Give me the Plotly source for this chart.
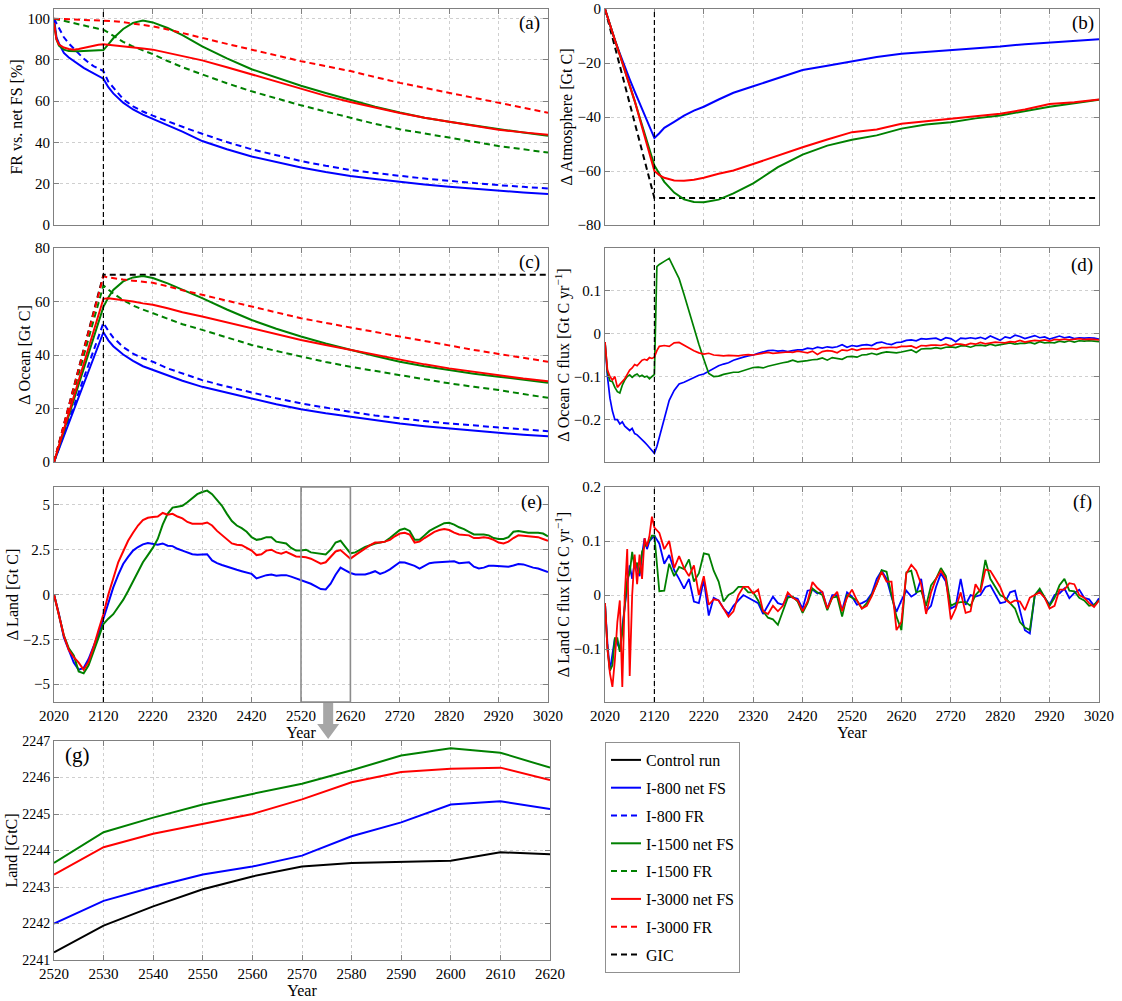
import plotly.graph_objects as go

# body margin is removed by a post script, so figure pixels == window pixels
OFF = 0
W, H = 1122 - OFF, 1001 - OFF
FONT = "Liberation Serif"

# ---------------------------------------------------------------- data
YEAR_TICKS = list(range(2020, 3021, 100))
YEARS_A = [2020, 2025, 2030, 2040, 2050, 2060, 2070, 2080, 2090, 2100, 2110, 2120,
           2130, 2140, 2160, 2180, 2200, 2220, 2250, 2280, 2320, 2370, 2420, 2470,
           2520, 2570, 2620, 2670, 2720, 2770, 2820, 2870, 2920, 2970, 3020]

# (a) FR vs. net FS [%]
A_BLUE_NET = [100, 91, 88, 83.4, 81.2, 79.4, 77.7, 76.2, 74.8, 73.4, 72.2, 70.9,
              66.8, 63.8, 59.3, 56.0, 53.5, 51.5, 48.2, 45.3, 40.7, 36.7, 33.2, 30.4,
              27.9, 25.7, 23.8, 22.3, 20.9, 19.6, 18.5, 17.5, 16.6, 15.8, 15.0]
A_BLUE_FR = [100, 97.7, 95.5, 91, 88, 85.5, 83, 80.7, 78.7, 77, 75.8, 74.6,
             69.5, 66.5, 61, 57.5, 55, 53, 50.2, 47.6, 44.2, 40.2, 36.7, 33.7,
             31.0, 28.7, 26.7, 25.2, 23.8, 22.5, 21.4, 20.3, 19.3, 18.5, 17.7]
A_GREEN_NET = [98, 90, 87, 85, 84.3, 84.1, 84.2, 84.3, 84.4, 84.5, 84.6, 84.8,
               87.5, 90.5, 95, 98, 99.1, 98.2, 95.5, 92, 86.6, 80.8, 75.5, 71.5,
               67.5, 64, 60.5, 57.3, 54.5, 52, 50, 48.2, 46.5, 44.8, 43.2]
A_GREEN_FR = [100, 99.8, 99.5, 99, 98.4, 97.8, 97.2, 96.6, 96, 95.5, 95.1, 94.7,
              93.3, 91.8, 88.8, 86.5, 84.6, 82.8, 79.5, 76.5, 73, 68.7, 64.8, 61.3,
              58, 55, 52, 49, 46.4, 44.3, 42.4, 40.3, 38.3, 36.7, 35.1]
A_RED_NET = [98, 90, 87.5, 86, 85.3, 85, 85.3, 85.8, 86.4, 87, 87.4, 87.6,
             87.3, 87, 86.4, 85.9, 85.5, 85, 83.5, 82, 79.8, 76.5, 73, 69.3,
             65.8, 62.6, 59.6, 56.8, 54.3, 52, 50, 48, 46.2, 44.9, 43.8]
A_RED_FR = [100, 100, 99.9, 99.8, 99.7, 99.6, 99.5, 99.4, 99.3, 99.3, 99.2, 99.2,
            99, 98.8, 98.3, 97.7, 97, 96.3, 94.8, 93.2, 90.7, 87.8, 85, 82.2,
            79.4, 77, 74.6, 71.7, 68.9, 66.5, 64.1, 61.7, 59.3, 56.8, 54.4]

# (b) Delta atmosphere [Gt C]
B_BLUE = [0, -3, -6, -11.5, -16.5, -21.5, -26, -30.5, -35, -39.5, -43.8, -47.8,
          -46, -44, -41.8, -39.5, -37.6, -36.2, -33.5, -31, -28.6, -25.5, -22.6, -21,
          -19.5, -17.8, -16.6, -15.9, -15.4, -14.6, -13.9, -13, -12.4, -11.9, -11.2]
B_GREEN = [0, -3, -6, -11.5, -17, -22.5, -28, -34, -40, -46, -52, -58,
           -61, -64, -68, -70.5, -71.5, -71.6, -70.6, -68.3, -64.6, -58.6, -53.9, -50.6,
           -48.4, -46.8, -44.3, -42.8, -41.9, -40.5, -39.4, -37.8, -36.2, -34.9, -33.6]
B_RED = [0, -3, -6, -11.5, -17, -22.5, -28, -34, -40.5, -47, -53.5, -60,
         -61.5, -62.5, -63.5, -63.6, -63.2, -62.5, -61, -59.8, -57.4, -54.2, -51.2, -48.3,
         -45.6, -44.6, -42.5, -41.6, -40.6, -39.6, -38.8, -37.2, -35.2, -34.5, -33.5]
GIC_YEARS = [2020, 2120, 3020]
GIC_ATM = [0, -70, -70]
GIC_OCEAN = [0, 70, 70]

# (c) Delta ocean [Gt C]
C_BLUE_NET = [0, 2.4, 4.8, 9.7, 14.5, 19.4, 24.2, 29.1, 33.9, 38.8, 43.6, 48.5,
              45.5, 43.3, 40.2, 37.8, 35.8, 34.4, 32.3, 30.4, 28.1, 25.8, 23.75, 21.6,
              19.75, 18.2, 16.9, 15.6, 14.4, 13.4, 12.5, 11.7, 10.9, 10.2, 9.6]
C_BLUE_FR = [0, 2.6, 5.2, 10.4, 15.6, 20.8, 26, 31.2, 36.4, 41.6, 46.8, 52,
             49, 46.5, 43, 40.5, 38.8, 37.5, 35, 33, 30.6, 28.2, 25.9, 23.8,
             21.9, 20.3, 18.75, 17.4, 16.25, 15.3, 14.4, 13.6, 12.9, 12.2, 11.5]
C_GREEN_NET = [0, 2.9, 5.8, 11.6, 17.4, 23.2, 29, 34.8, 40.6, 46.4, 52.2, 58,
               61.5, 64.3, 67.5, 69, 69.5, 68.8, 66.8, 64.5, 61.25, 57, 53.1, 49.8,
               46.9, 44.3, 41.9, 39.6, 37.5, 35.8, 34.4, 33, 31.9, 30.7, 29.6]
C_GREEN_FR = [0, 3.3, 6.6, 13.2, 19.8, 26.4, 33, 39.6, 46.2, 52.8, 59.4, 66,
              64.5, 63, 60.5, 58.5, 57, 55.6, 53.5, 51.5, 49.4, 46.5, 43.75, 41.5,
              39.4, 37.4, 35.6, 34, 32.5, 30.9, 29.4, 28.1, 26.9, 25.4, 24]
C_RED_NET = [0, 3.05, 6.1, 12.2, 18.3, 24.4, 30.5, 36.6, 42.7, 48.8, 54.9, 61,
             61.2, 61, 60.5, 60, 59.3, 58.75, 57.5, 56, 54.4, 52.2, 50, 47.8,
             45.6, 43.7, 41.9, 40, 38.1, 36.5, 35, 33.7, 32.5, 31.2, 30.2]
C_RED_FR = [0, 3.45, 6.9, 13.9, 20.8, 27.7, 34.7, 41.6, 48.5, 55.5, 62.4, 69.4,
            69, 68.7, 68.2, 67.8, 67.5, 67, 65.7, 64.2, 62.5, 60.3, 58.1, 55.9,
            53.75, 52, 50.4, 48.6, 46.9, 45.2, 43.4, 41.9, 40.4, 38.9, 37.5]

# (d) Delta ocean C flux [Gt C / yr]
D_YEARS = list(range(2020, 2121, 5)) + [2125] + list(range(2130, 3021, 10))
D_BLUE = [-0.020, -0.100, -0.150, -0.180, -0.200, -0.200, -0.210, -0.205, -0.215, -0.220, -0.225,
          -0.220, -0.232, -0.235, -0.240, -0.245, -0.252, -0.258, -0.265, -0.272, -0.278,
          -0.262,
          -0.240, -0.195, -0.155, -0.132, -0.117, -0.113, -0.108, -0.102, -0.097, -0.094,
          -0.087, -0.080, -0.075, -0.071, -0.068, -0.062, -0.058, -0.055, -0.052, -0.050,
          -0.046, -0.043, -0.040, -0.039, -0.041, -0.040, -0.042, -0.040, -0.038, -0.038,
          -0.034, -0.036, -0.032, -0.034, -0.031, -0.033, -0.031, -0.026, -0.032, -0.028,
          -0.030, -0.027, -0.026, -0.028, -0.022, -0.020, -0.024, -0.026, -0.021, -0.020,
          -0.016, -0.015, -0.017, -0.012, -0.013, -0.012, -0.011, -0.016, -0.010, -0.012,
          -0.019, -0.011, -0.012, -0.010, -0.012, -0.009, -0.013, -0.006, -0.011, -0.016,
          -0.008, -0.011, -0.004, -0.007, -0.012, -0.009, -0.005, -0.010, -0.008, -0.013,
          -0.009, -0.006, -0.010, -0.008, -0.012, -0.010, -0.011, -0.010, -0.011, -0.013]
D_GREEN = [-0.020, -0.090, -0.110, -0.112, -0.125, -0.135, -0.138, -0.120, -0.108, -0.100, -0.096,
           -0.102, -0.097, -0.094, -0.100, -0.097, -0.101, -0.099, -0.105, -0.100, -0.095,
           0.155,
           0.160, 0.167, 0.174, 0.150, 0.127, 0.090, 0.050, 0.012, -0.025, -0.060,
           -0.093, -0.100, -0.099, -0.095, -0.093, -0.090, -0.090, -0.086, -0.082, -0.079,
           -0.078, -0.080, -0.076, -0.073, -0.070, -0.068, -0.066, -0.062, -0.066, -0.065,
           -0.063, -0.061, -0.060, -0.057, -0.062, -0.056, -0.058, -0.060, -0.054, -0.053,
           -0.055, -0.050, -0.049, -0.046, -0.049, -0.045, -0.043, -0.044, -0.045, -0.043,
           -0.040, -0.038, -0.044, -0.036, -0.035, -0.035, -0.033, -0.035, -0.032, -0.031,
           -0.033, -0.029, -0.029, -0.032, -0.028, -0.027, -0.029, -0.025, -0.028, -0.026,
           -0.024, -0.022, -0.025, -0.023, -0.023, -0.021, -0.024, -0.019, -0.022, -0.021,
           -0.022, -0.018, -0.020, -0.017, -0.020, -0.017, -0.018, -0.017, -0.018, -0.019]
D_RED = [-0.020, -0.085, -0.100, -0.108, -0.100, -0.125, -0.118, -0.112, -0.105, -0.095, -0.085,
         -0.080, -0.072, -0.075, -0.068, -0.062, -0.060, -0.062, -0.056, -0.058, -0.055,
         -0.040,
         -0.030, -0.028, -0.030, -0.022, -0.021, -0.028, -0.034, -0.040, -0.045, -0.048,
         -0.046, -0.050, -0.051, -0.052, -0.051, -0.051, -0.052, -0.050, -0.049, -0.050,
         -0.048, -0.046, -0.044, -0.046, -0.045, -0.045, -0.043, -0.044, -0.041, -0.043,
         -0.045, -0.041, -0.049, -0.042, -0.040, -0.041, -0.045, -0.038, -0.040, -0.036,
         -0.039, -0.036, -0.035, -0.035, -0.037, -0.033, -0.033, -0.032, -0.033, -0.030,
         -0.030, -0.029, -0.034, -0.028, -0.029, -0.027, -0.027, -0.028, -0.025, -0.029,
         -0.025, -0.025, -0.027, -0.023, -0.025, -0.021, -0.024, -0.022, -0.020, -0.021,
         -0.022, -0.019, -0.020, -0.016, -0.020, -0.018, -0.016, -0.017, -0.015, -0.018,
         -0.014, -0.015, -0.013, -0.015, -0.013, -0.012, -0.014, -0.013, -0.014, -0.015]

# (e) Delta land [Gt C]
E_YEARS = list(range(2020, 3021, 10))
E_BLUE = [0.0, -1.1, -2.4, -3.1, -3.8, -4.2, -4.1, -3.6, -2.9, -2.2,
          -1.35, -0.4, 0.4, 1.1, 1.7, 2.1, 2.45, 2.65, 2.8, 2.87,
          2.82, 2.78, 2.85, 2.72, 2.7, 2.55, 2.45, 2.35, 2.25, 2.22,
          2.22, 2.25, 1.9, 1.75, 1.65, 1.55, 1.45, 1.38, 1.3, 1.22,
          1.15, 0.9, 1.0, 1.08, 1.12, 1.05, 1.07, 1.08, 1.0, 0.9,
          0.82, 0.72, 0.6, 0.45, 0.3, 0.28, 0.6, 1.1, 1.5, 1.35,
          1.2, 1.12, 1.1, 1.12, 1.2, 1.3, 1.15, 1.25, 1.4, 1.6,
          1.8, 1.78, 1.68, 1.6, 1.45, 1.62, 1.75, 1.78, 1.8, 1.8,
          1.8, 1.85, 1.75, 1.78, 1.8, 1.55, 1.45, 1.5, 1.6, 1.6,
          1.58, 1.58, 1.55, 1.62, 1.7, 1.68, 1.58, 1.5, 1.45, 1.35,
          1.25]
E_GREEN = [0.0, -1.1, -2.3, -3.0, -3.4, -4.3, -4.4, -3.95, -3.2, -2.4,
           -1.65, -1.35, -1.1, -0.7, -0.3, 0.2, 0.75, 1.3, 1.8, 2.2,
           2.6, 3.1, 3.9, 4.5, 4.85, 4.9, 4.95, 5.15, 5.35, 5.6,
           5.72, 5.8, 5.6, 5.3, 4.95, 4.5, 4.1, 3.85, 3.7, 3.5,
           3.2, 3.05, 3.1, 3.2, 3.2, 2.95, 2.9, 2.85, 2.6, 2.45,
           2.45, 2.5, 2.35, 2.3, 2.25, 2.23, 2.5, 2.9, 3.0, 2.65,
           2.3, 2.35, 2.5, 2.65, 2.75, 2.85, 2.9, 2.95, 3.15, 3.4,
           3.6, 3.68, 3.55, 3.05, 3.05, 3.3, 3.55, 3.7, 3.85, 3.98,
           4.0, 3.9, 3.75, 3.65, 3.5, 3.35, 3.35, 3.35, 3.3, 3.15,
           3.1, 3.1, 3.2, 3.5, 3.55, 3.5, 3.45, 3.45, 3.45, 3.4,
           3.25]
E_RED = [0.0, -1.1, -2.3, -3.1, -3.5, -3.8, -4.2, -3.75, -2.95, -2.0,
         -1.1, 0.0, 0.97, 1.8, 2.4, 3.0, 3.45, 3.85, 4.15, 4.28,
         4.32, 4.35, 4.55, 4.45, 4.5, 4.35, 4.25, 4.05, 3.95, 3.93,
         3.95, 4.02, 3.85, 3.55, 3.3, 3.05, 2.85, 2.78, 2.75, 2.6,
         2.45, 2.2, 2.25, 2.45, 2.5, 2.35, 2.28, 2.38, 2.25, 2.12,
         2.1, 2.08, 2.0, 1.85, 1.72, 1.8, 2.1, 2.4, 2.48, 2.25,
         2.0, 2.2, 2.38, 2.6, 2.75, 2.9, 2.9, 2.95, 3.05, 3.25,
         3.4, 3.45, 3.35, 2.9, 2.95, 3.15, 3.35, 3.5, 3.6, 3.65,
         3.6, 3.45, 3.35, 3.32, 3.3, 3.15, 3.15, 3.2, 3.15, 3.05,
         2.9, 2.85, 2.95, 3.15, 3.3, 3.28, 3.25, 3.2, 3.2, 3.1,
         3.0]

# (f) Delta land C flux [Gt C / yr]
F_YEARS = list(range(2020, 2116, 5)) + list(range(2120, 3021, 10))
F_BLUE = [-0.015, -0.090, -0.140, -0.110, -0.080, -0.090, -0.100, -0.060, -0.020, 0.020,
          0.055, 0.030, 0.060, 0.050, 0.035, 0.075, 0.105, 0.085, 0.100, 0.105,
          0.110, 0.095, 0.058, 0.074, 0.046, 0.030, 0.012, 0.030, -0.012, -0.015,
          0.028, -0.038, -0.005, -0.010, -0.025, -0.035, -0.020, -0.010, 0.000, -0.005,
          -0.010, -0.015, -0.035, -0.020, -0.003, -0.015, -0.018, -0.002, -0.005, -0.007,
          -0.025, 0.008, 0.010, 0.003, 0.006, -0.025, 0.000, 0.000, -0.028, 0.005,
          -0.003, -0.018, -0.015, -0.010, 0.003, 0.030, 0.045, 0.030, -0.003, -0.031,
          -0.010, 0.008, -0.003, 0.003, 0.030, -0.030, -0.020, 0.015, 0.040, 0.025,
          -0.025, -0.020, 0.030, -0.018, 0.000, -0.003, 0.000, 0.015, 0.018, 0.000,
          -0.015, -0.013, 0.005, 0.008, -0.030, -0.065, -0.071, 0.000, 0.008, -0.005,
          -0.018, 0.000, 0.003, 0.012, -0.006, 0.004, 0.010, -0.005, -0.008, -0.020,
          -0.006]
F_GREEN = [-0.015, -0.100, -0.140, -0.130, -0.080, -0.080, -0.105, -0.070, -0.020, 0.030,
           0.040, 0.080, 0.050, 0.060, 0.040, 0.080, 0.090, 0.095, 0.100, 0.110,
           0.110, 0.007, 0.008, 0.058, 0.035, 0.052, 0.048, 0.066, 0.025, 0.040,
           0.077, 0.075, 0.045, 0.025, -0.012, 0.000, 0.005, 0.015, 0.015, 0.005,
           0.005, -0.010, -0.030, -0.042, -0.045, -0.055, -0.030, -0.005, -0.003, -0.012,
           -0.033, -0.015, 0.012, 0.005, 0.000, -0.028, -0.005, -0.003, -0.040, 0.000,
           -0.005, -0.010, -0.025, -0.015, 0.000, 0.020, 0.046, 0.043, 0.000, -0.040,
           -0.065, 0.042, 0.045, 0.005, 0.008, -0.020, 0.018, 0.030, 0.050, 0.035,
           -0.020, -0.015, -0.013, -0.013, -0.020, 0.000, 0.010, 0.065, 0.030, 0.015,
           0.000, -0.005, -0.015, -0.025, -0.050, -0.060, -0.065, 0.000, 0.012, -0.005,
           -0.020, -0.005, 0.018, 0.030, 0.008, 0.007, -0.005, -0.010, -0.020, -0.018,
           -0.010]
F_RED = [-0.015, -0.100, -0.145, -0.170, -0.120, -0.050, -0.010, -0.170, 0.000, 0.085,
         -0.150, 0.000, 0.075, 0.020, 0.075, 0.030, 0.105, 0.090, 0.110, 0.145,
         0.125, 0.115, 0.085, 0.100, 0.050, 0.072, 0.050, 0.035, 0.055, 0.000,
         0.035, -0.018, -0.008, -0.010, -0.025, -0.040, -0.030, 0.000, 0.015, 0.015,
         0.003, 0.010, -0.030, -0.035, -0.020, -0.030, -0.020, 0.005, -0.005, -0.010,
         -0.030, -0.012, 0.024, 0.013, 0.005, -0.025, -0.005, 0.006, -0.030, -0.005,
         0.010, -0.010, -0.025, -0.020, -0.002, 0.020, 0.043, 0.025, 0.025, -0.065,
         -0.050, 0.040, 0.056, 0.045, 0.020, -0.035, 0.005, 0.030, 0.045, 0.030,
         -0.045, -0.025, 0.005, -0.033, -0.030, 0.020, 0.005, 0.047, 0.045, 0.030,
         0.015, -0.008, -0.015, -0.010, -0.012, -0.028, -0.005, 0.000, 0.005, -0.005,
         -0.025, -0.020, 0.010, 0.010, 0.022, 0.020, 0.000, -0.005, -0.015, -0.022,
         -0.010]

# (g) Land [GtC], zoom 2520-2620
G_YEARS = list(range(2520, 2621, 10))
G_CONTROL = [2241.21, 2241.94, 2242.47, 2242.94, 2243.29, 2243.56, 2243.66, 2243.68, 2243.72, 2243.95, 2243.90]
G_BLUE = [2242.00, 2242.62, 2243.00, 2243.34, 2243.56, 2243.86, 2244.39, 2244.77, 2245.26, 2245.35, 2245.14]
G_GREEN = [2243.66, 2244.50, 2244.90, 2245.26, 2245.55, 2245.83, 2246.20, 2246.60, 2246.80, 2246.68, 2246.27]
G_RED = [2243.34, 2244.09, 2244.46, 2244.73, 2245.00, 2245.40, 2245.87, 2246.15, 2246.24, 2246.27, 2245.93]
G_TICKS_Y = [2241, 2242, 2243, 2244, 2245, 2246, 2247]

for nm, xs, ys in [("D_BLUE", D_YEARS, D_BLUE), ("D_GREEN", D_YEARS, D_GREEN), ("D_RED", D_YEARS, D_RED),
                   ("E_BLUE", E_YEARS, E_BLUE), ("E_GREEN", E_YEARS, E_GREEN), ("E_RED", E_YEARS, E_RED),
                   ("F_BLUE", F_YEARS, F_BLUE), ("F_GREEN", F_YEARS, F_GREEN), ("F_RED", F_YEARS, F_RED)]:
    assert len(xs) == len(ys), (nm, len(xs), len(ys))

# ---------------------------------------------------------------- styling
BLUE, GREEN, RED, BLACK = "#0000ff", "#008000", "#ff0000", "#000000"
DASH = "6px,4px"
LW = 2.0

NAMES = {"ctrl": "Control run", "b": "I-800 net FS", "bf": "I-800 FR",
         "g": "I-1500 net FS", "gf": "I-1500 FR", "r": "I-3000 net FS",
         "rf": "I-3000 FR", "gic": "GIC"}
RANK = {"ctrl": 1, "b": 2, "bf": 3, "g": 4, "gf": 5, "r": 6, "rf": 7, "gic": 8}

fig = go.Figure()


def add(ax, x, y, key, color, dash=None, show=False, width=LW):
    fig.add_trace(go.Scatter(
        x=x, y=y, mode="lines", name=NAMES[key], legendgroup=NAMES[key],
        legendrank=RANK[key], showlegend=show,
        line=dict(color=color, width=width, dash=dash),
        xaxis="x" + ax, yaxis="y" + ax, hoverinfo="skip"))


# (a)
add("", YEARS_A, A_BLUE_NET, "b", BLUE, show=True)
add("", YEARS_A, A_BLUE_FR, "bf", BLUE, DASH, show=True)
add("", YEARS_A, A_GREEN_NET, "g", GREEN, show=True)
add("", YEARS_A, A_GREEN_FR, "gf", GREEN, DASH, show=True)
add("", YEARS_A, A_RED_FR, "rf", RED, DASH, show=True)
add("", YEARS_A, A_RED_NET, "r", RED, show=True)
# (b)
add("2", GIC_YEARS, GIC_ATM, "gic", BLACK, DASH, show=True)
add("2", YEARS_A, B_BLUE, "b", BLUE)
add("2", YEARS_A, B_GREEN, "g", GREEN)
add("2", YEARS_A, B_RED, "r", RED)
# (c)
add("3", GIC_YEARS, GIC_OCEAN, "gic", BLACK, DASH)
add("3", YEARS_A, C_BLUE_FR, "bf", BLUE, DASH)
add("3", YEARS_A, C_BLUE_NET, "b", BLUE)
add("3", YEARS_A, C_GREEN_FR, "gf", GREEN, DASH)
add("3", YEARS_A, C_GREEN_NET, "g", GREEN)
add("3", YEARS_A, C_RED_FR, "rf", RED, DASH)
add("3", YEARS_A, C_RED_NET, "r", RED)
# (d)
add("4", D_YEARS, D_BLUE, "b", BLUE, width=1.7)
add("4", D_YEARS, D_GREEN, "g", GREEN, width=1.7)
add("4", D_YEARS, D_RED, "r", RED, width=1.7)
# (e)
add("5", E_YEARS, E_BLUE, "b", BLUE)
add("5", E_YEARS, E_GREEN, "g", GREEN)
add("5", E_YEARS, E_RED, "r", RED)
# (f)
add("6", F_YEARS, F_BLUE, "b", BLUE, width=1.8)
add("6", F_YEARS, F_GREEN, "g", GREEN, width=1.8)
add("6", F_YEARS, F_RED, "r", RED, width=1.8)
# (g)
add("7", G_YEARS, G_CONTROL, "ctrl", BLACK, show=True)
add("7", G_YEARS, G_BLUE, "b", BLUE)
add("7", G_YEARS, G_GREEN, "g", GREEN)
add("7", G_YEARS, G_RED, "r", RED)


def px_x(p):
    """window pixel column -> paper fraction"""
    return (p - OFF) / W


def px_y(p):
    """window pixel row -> paper fraction"""
    return 1 - (p - OFF) / H


LEFT = [px_x(54), px_x(548)]
RIGHT = [px_x(605), px_x(1099)]
ROW1 = [px_y(225), px_y(9)]
ROW2 = [px_y(462), px_y(248)]
ROW3 = [px_y(702), px_y(487)]
G_XD = [px_x(54), px_x(550)]
G_YD = [px_y(960), px_y(741)]

AX_GREY = "#808080"


def ax_style(**kw):
    d = dict(showline=True, linecolor=AX_GREY, linewidth=1, mirror="ticks",
             ticks="inside", ticklen=5, tickcolor=AX_GREY, tickwidth=1,
             showgrid=True, gridcolor="#cfcfcf", griddash="dot", gridwidth=1,
             zeroline=False, automargin=False, fixedrange=True,
             ticklabeloverflow="allow",
             tickfont=dict(family=FONT, size=15, color="black"),
             title_font=dict(family=FONT, size=16, color="black"))
    d.update(kw)
    return d


def xax(domain, anchor, labels, title=None, rng=(2020, 3020), tickvals=YEAR_TICKS):
    d = ax_style(domain=domain, anchor=anchor, range=list(rng), tickvals=tickvals,
                 showticklabels=labels)
    if title:
        d["title"] = dict(text=title, standoff=0)
    return d


def yax(domain, anchor, rng, tickvals, title=None, ticktext=None, **kw):
    d = ax_style(domain=domain, anchor=anchor, range=list(rng), tickvals=tickvals, **kw)
    if title:
        d["title"] = dict(text=title, standoff=0)
    if ticktext is not None:
        d["ticktext"] = ticktext
    return d


layout = dict(
    width=W, height=H, autosize=False, template="none",
    margin=dict(l=0, r=0, t=0, b=0, pad=0),
    paper_bgcolor="white", plot_bgcolor="white",
    font=dict(family=FONT, size=16, color="black"),
    showlegend=True,
    legend=dict(x=px_x(605), y=px_y(742), xanchor="left", yanchor="top",
                bordercolor="#909090", borderwidth=1, bgcolor="white",
                font=dict(family=FONT, size=16, color="black"),
                traceorder="grouped", tracegroupgap=4, itemwidth=30),
    xaxis=xax(LEFT, "y", False),
    xaxis2=xax(RIGHT, "y2", False),
    xaxis3=xax(LEFT, "y3", False),
    xaxis4=xax(RIGHT, "y4", False),
    xaxis5=xax(LEFT, "y5", True, "Year"),
    xaxis6=xax(RIGHT, "y6", True, "Year"),
    xaxis7=xax(G_XD, "y7", True, "Year", (2520, 2620), G_YEARS),
    yaxis=yax(ROW1, "x", (0, 104.7), [0, 20, 40, 60, 80, 100], "FR vs. net FS [%]"),
    yaxis2=yax(ROW1, "x2", (-80, 0.02), [-80, -60, -40, -20, 0], "Δ Atmosphere [Gt C]",
               ["−80", "−60", "−40", "−20", "0"]),
    yaxis3=yax(ROW2, "x3", (0, 80), [0, 20, 40, 60, 80], "Δ Ocean [Gt C]"),
    yaxis4=yax(ROW2, "x4", (-0.298, 0.198), [-0.2, -0.1, 0, 0.1],
               "Δ Ocean C flux [Gt C yr<sup>−1</sup>]", ["−0.2", "−0.1", "0", "0.1"]),
    yaxis5=yax(ROW3, "x5", (-6, 6), [-5, -2.5, 0, 2.5, 5], "Δ Land [Gt C]",
               ["−5", "−2.5", "0", "2.5", "5"]),
    yaxis6=yax(ROW3, "x6", (-0.198, 0.2), [-0.1, 0, 0.1, 0.2],
               "Δ Land C flux [Gt C yr<sup>−1</sup>]", ["−0.1", "0", "0.1", "0.2"]),
    yaxis7=yax(G_YD, "x7", (2241, 2247), G_TICKS_Y, "Land [GtC]",
               tickfont=dict(family=FONT, size=14, color="black")),
)
fig.update_layout(**layout)

# dashed marker of the end of the removal period (2120) in panels a-f
shapes = []
for ax in ["", "2", "3", "4", "5", "6"]:
    shapes.append(dict(type="line", xref="x" + ax, yref=("y" + ax) + " domain",
                       x0=2120, x1=2120, y0=0, y1=1,
                       line=dict(color="black", width=1.2, dash="5px,3px"), layer="above"))
# zoom window in (e)
shapes.append(dict(type="rect", xref="x5", yref="y5 domain", x0=2520, x1=2620, y0=0, y1=1,
                   line=dict(color="#8c8c8c", width=1.6), fillcolor="rgba(0,0,0,0)", layer="above"))
# grey arrow from the window to panel (g)
yrs_per_px = 1000 / 494
cx = 2575
sh = 5 * yrs_per_px
hd = 11 * yrs_per_px
y_top, y_mid, y_tip = px_y(703), px_y(724), px_y(739)
path = (f"M {cx - sh},{y_top} L {cx + sh},{y_top} L {cx + sh},{y_mid} L {cx + hd},{y_mid} "
        f"L {cx},{y_tip} L {cx - hd},{y_mid} L {cx - sh},{y_mid} Z")
shapes.append(dict(type="path", xref="x5", yref="paper", path=path,
                   fillcolor="#a6a6a6", line=dict(width=0)))
fig.update_layout(shapes=shapes)

# panel letters
ann = []
for ax, lab, xx, yy in [("", "(a)", 0.962, 0.935), ("2", "(b)", 0.968, 0.935),
                        ("3", "(c)", 0.962, 0.935), ("4", "(d)", 0.966, 0.92),
                        ("5", "(e)", 0.966, 0.93), ("6", "(f)", 0.966, 0.93),
                        ("7", "(g)", 0.048, 0.936)]:
    ann.append(dict(text=lab, xref="x" + ax + " domain", yref="y" + ax + " domain",
                    x=xx, y=yy, xanchor="center", yanchor="middle", showarrow=False,
                    font=dict(family=FONT, size=21 if lab == "(g)" else 19, color="black")))
fig.update_layout(annotations=ann)

fig.write_html("out.html", config={"displayModeBar": False},
               post_script="document.body.style.margin='0px';")
